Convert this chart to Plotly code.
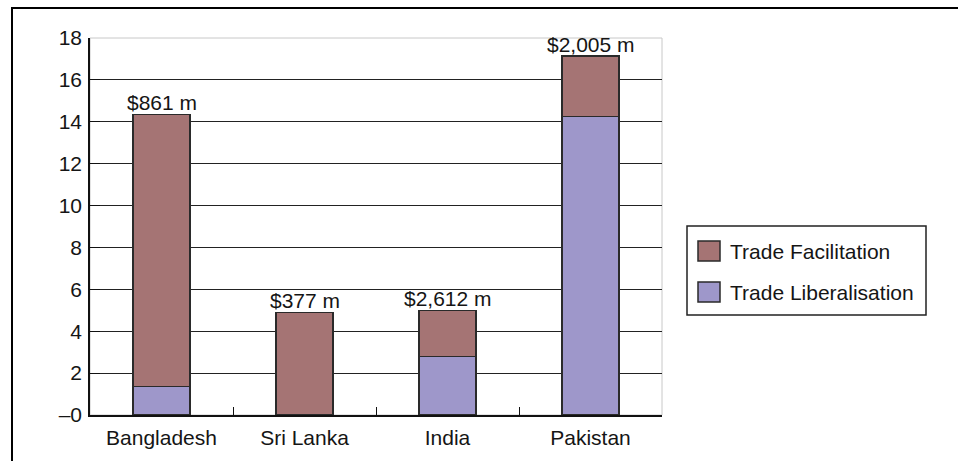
import plotly.graph_objects as go

# Sectoral shares by country (stacked: liberalisation at the base, facilitation on top)
countries = ["Bangladesh", "Sri Lanka", "India", "Pakistan"]
series_names = ["Trade Facilitation", "Trade Liberalisation"]
trade_liberalisation = [1.35, 0.0, 2.8, 14.25]
trade_facilitation = [13.0, 4.9, 2.2, 2.9]
total_labels = ["$861 m", "$377 m", "$2,612 m", "$2,005 m"]
y_ticks = [0, 2, 4, 6, 8, 10, 12, 14, 16, 18]
y_tick_text = ["\u20130", "2", "4", "6", "8", "10", "12", "14", "16", "18"]

FAC_COLOR = "#a57474"
LIB_COLOR = "#9e97ca"
EDGE = "#2a2a2a"
FONT = "Liberation Sans, Arial, sans-serif"
TXT = "#151515"
FS = 21

W, H = 958, 461
L, R, T, B = 90, 296, 38, 46
PW, PH = W - L - R, H - T - B


def px_x(px):
    return (px - L) / PW


def px_y(py):
    return (H - B - py) / PH


fig = go.Figure()
fig.add_trace(go.Bar(
    x=countries, y=trade_liberalisation, name=series_names[1],
    marker=dict(color=LIB_COLOR, line=dict(color=EDGE, width=1.5)),
    showlegend=False,
))
fig.add_trace(go.Bar(
    x=countries, y=trade_facilitation, name=series_names[0],
    marker=dict(color=FAC_COLOR, line=dict(color=EDGE, width=1.5)),
    showlegend=False,
))

# Totals written above each stack
for c, lib, fac, lab in zip(countries, trade_liberalisation, trade_facilitation, total_labels):
    fig.add_annotation(
        x=c, y=lib + fac, text=lab, showarrow=False,
        yanchor="bottom", xanchor="center", yshift=-2,
        font=dict(family=FONT, size=FS, color=TXT),
    )

shapes = [
    # light plot-area border (top and right edges)
    dict(type="rect", xref="paper", yref="paper", x0=0, x1=1, y0=0, y1=1,
         line=dict(color="#c8c8c8", width=1), layer="below"),
    # outer frame
    dict(type="rect", xref="paper", yref="paper",
         x0=px_x(12), x1=px_x(1100), y0=px_y(600), y1=px_y(8),
         line=dict(color="#000000", width=2)),
    # legend box
    dict(type="rect", xref="paper", yref="paper",
         x0=px_x(687), x1=px_x(926), y0=px_y(315), y1=px_y(226),
         line=dict(color="#222222", width=1.5), fillcolor="white"),
]

legend_rows = [(series_names[0], FAC_COLOR, 251), (series_names[1], LIB_COLOR, 292)]
for name, col, cy in legend_rows:
    shapes.append(dict(
        type="rect", xref="paper", yref="paper",
        x0=px_x(698), x1=px_x(720), y0=px_y(cy + 10), y1=px_y(cy - 10),
        fillcolor=col, line=dict(color=EDGE, width=1.5),
    ))
    fig.add_annotation(
        xref="paper", yref="paper", x=px_x(728), y=px_y(cy),
        xanchor="left", yanchor="middle", text=name, showarrow=False,
        font=dict(family=FONT, size=FS, color=TXT),
    )

fig.update_layout(
    width=W, height=H,
    margin=dict(l=L, r=R, t=T, b=B),
    paper_bgcolor="white", plot_bgcolor="white",
    barmode="stack", bargap=0.6,
    shapes=shapes,
    font=dict(family=FONT, size=FS, color=TXT),
    xaxis=dict(
        type="category", range=[-0.5, 3.5],
        showgrid=False, showline=True, linecolor="#111111", linewidth=1.5,
        ticks="inside", tickson="boundaries", ticklen=8, tickcolor="#111111",
        tickwidth=1.2, ticklabelstandoff=3,
        tickfont=dict(family=FONT, size=FS, color=TXT),
    ),
    yaxis=dict(
        range=[0, 18], tickvals=y_ticks, ticktext=y_tick_text,
        showgrid=True, gridcolor="#222222", gridwidth=1,
        showline=True, linecolor="#111111", linewidth=1.5,
        ticks="inside", ticklen=10, tickcolor="#111111", tickwidth=1.2,
        ticklabelstandoff=2, zeroline=False,
        tickfont=dict(family=FONT, size=FS, color=TXT),
    ),
)

fig.write_html("out.html")
